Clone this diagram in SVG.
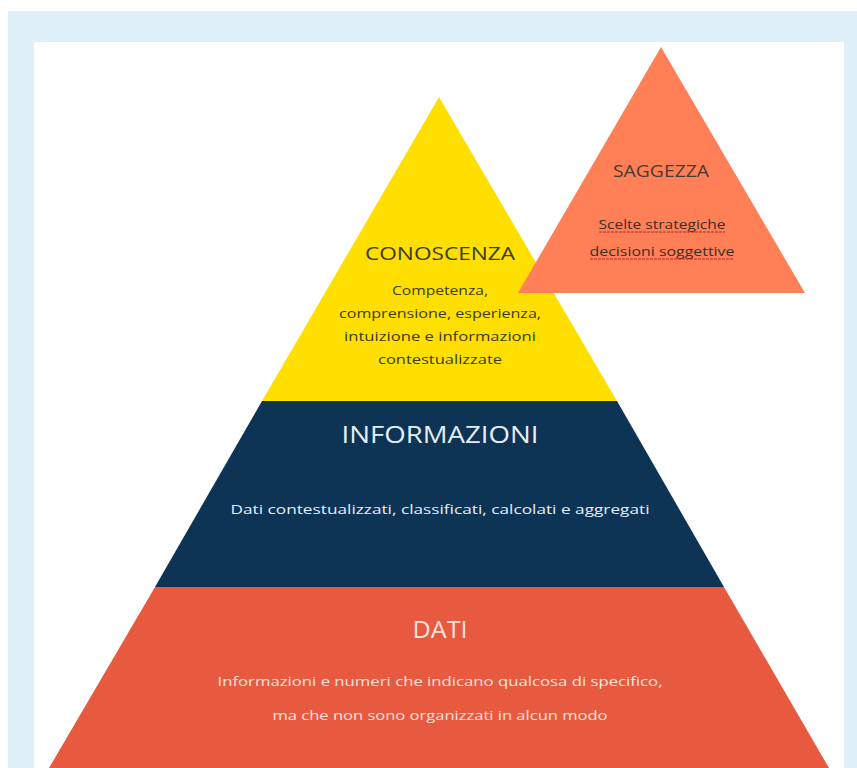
<svg xmlns="http://www.w3.org/2000/svg" width="857" height="768" viewBox="0 0 857 768">
<style>
  text { font-family: "Open Sans", "Noto Sans", "DejaVu Sans", sans-serif; text-anchor: middle; }
  .dark { fill: #3b3a22; }
  .light { fill: #e6eef7; }
  .pink { fill: #fbe3dc; }
</style>
<rect x="0" y="0" width="857" height="768" fill="#ffffff"/>
<rect x="8" y="11" width="849" height="757" fill="#dfeff8"/>
<rect x="34" y="42" width="810" height="726" fill="#ffffff"/>
<g id="conoscenza">
  <polygon points="439,97 617,401 262,401" fill="#ffdf00"/>
  <text x="440" y="260" font-size="19" class="dark" textLength="150" lengthAdjust="spacingAndGlyphs">CONOSCENZA</text>
  <text x="440" y="295" font-size="13" class="dark" textLength="96" lengthAdjust="spacingAndGlyphs">Competenza,</text>
  <text x="440" y="318" font-size="13" class="dark" textLength="202" lengthAdjust="spacingAndGlyphs">comprensione, esperienza,</text>
  <text x="440" y="341" font-size="13" class="dark" textLength="192" lengthAdjust="spacingAndGlyphs">intuizione e informazioni</text>
  <text x="440" y="364" font-size="13" class="dark" textLength="124" lengthAdjust="spacingAndGlyphs">contestualizzate</text>
</g>
<g id="informazioni">
  <polygon points="262,401 617,401 724,587 155,587" fill="#0d3355"/>
  <text x="440" y="443" font-size="23" class="light" textLength="197" lengthAdjust="spacingAndGlyphs">INFORMAZIONI</text>
  <text x="440" y="514" font-size="13.5" class="light" textLength="419" lengthAdjust="spacingAndGlyphs">Dati contestualizzati, classificati, calcolati e aggregati</text>
</g>
<g id="dati">
  <polygon points="155,587 724,587 829,768 49,768" fill="#e85a40"/>
  <text x="440" y="638" font-size="24" class="pink" textLength="55" lengthAdjust="spacingAndGlyphs">DATI</text>
  <text x="440" y="686" font-size="13.5" class="pink" textLength="445" lengthAdjust="spacingAndGlyphs">Informazioni e numeri che indicano qualcosa di specifico,</text>
  <text x="440" y="720" font-size="13.5" class="pink" textLength="335" lengthAdjust="spacingAndGlyphs">ma che non sono organizzati in alcun modo</text>
</g>
<g id="saggezza">
  <polygon points="661,47 805,293 518,293" fill="#ff7f56"/>
  <text x="661" y="177" font-size="16" fill="#4a3a35" textLength="96" lengthAdjust="spacingAndGlyphs">SAGGEZZA</text>
  <text x="662" y="229" font-size="12" fill="#3a2d2a" textLength="127" lengthAdjust="spacingAndGlyphs">Scelte strategiche</text>
  <text x="662" y="256" font-size="12" fill="#3a2d2a" textLength="145" lengthAdjust="spacingAndGlyphs">decisioni soggettive</text>
  <line x1="599" y1="232" x2="725" y2="232" stroke="#c8202a" stroke-width="1.2" stroke-dasharray="3 1"/>
  <line x1="590" y1="259" x2="734" y2="259" stroke="#c8202a" stroke-width="1.2" stroke-dasharray="3 1"/>
</g>
</svg>
